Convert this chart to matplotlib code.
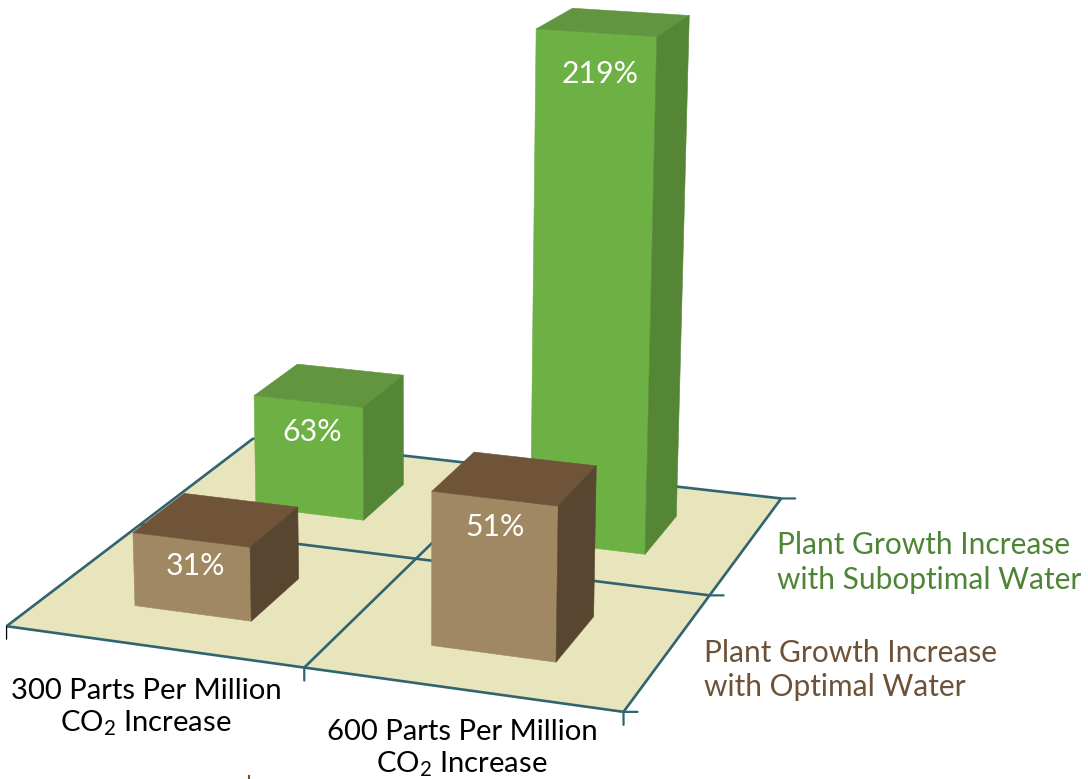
import matplotlib
matplotlib.use("Agg")
import matplotlib.pyplot as plt
from matplotlib.lines import Line2D
from mpl_toolkits.mplot3d import proj3d
from mpl_toolkits.mplot3d.art3d import Poly3DCollection

plt.rcParams["font.family"] = ["Lato", "DejaVu Sans"]
plt.rcParams["mathtext.fontset"] = "custom"
plt.rcParams["mathtext.rm"] = "Lato"
plt.rcParams["mathtext.default"] = "rm"

# bar heights as drawn in the picture, and the labels printed on them
co2_labels = ["300 Parts Per Million\nCO$_2$ Increase", "600 Parts Per Million\nCO$_2$ Increase"]
water_labels = ["Plant Growth Increase\nwith Optimal Water", "Plant Growth Increase\nwith Suboptimal Water"]
heights_optimal = [31, 63]
heights_suboptimal = [51, 219]
labels_optimal = ["31%", "51%"]
labels_suboptimal = ["63%", "219%"]

W, H = 1088, 779
BAR = 0.4
FLOOR = "#E8E4BB"
LINE = "#2F6470"
GREEN = ("#6DB144", "#62953F", "#558636")
BROWN = ("#A08962", "#6F543A", "#584630")
GREEN_TEXT = "#4F8436"
BROWN_TEXT = "#6D5238"

fig = plt.figure(figsize=(W / 100, H / 100), dpi=100)
size = 938
ax = fig.add_axes([-65.7 / W, -64.7 / H, size / W, size / H], projection="3d")
ax.set_proj_type("persp", focal_length=0.604)
ax.view_init(elev=16.7, azim=-70.3)
ax.set_box_aspect((1, 1, 0.68))
ax.set_xlim(0, 2)
ax.set_ylim(0, 2)
ax.set_zlim(0, 171)
ax.set_axis_off()
ax.computed_zorder = False

ax.add_collection3d(
    Poly3DCollection([[(0, 0, 0), (2, 0, 0), (2, 2, 0), (0, 2, 0)]], facecolor=FLOOR, edgecolor="none", zorder=1),
    autolim=False,
)

# floor lines
for v in [0, 1, 2]:
    ax.plot([0, 2], [v, v], [0, 0], color=LINE, lw=1.9, zorder=2, solid_capstyle="butt")
    ax.plot([v, v], [0, 2], [0, 0], color=LINE, lw=1.9, zorder=2, solid_capstyle="butt")


def screen(x, y, z):
    sx, sy, _ = proj3d.proj_transform(x, y, z, ax.get_proj())
    return sx, sy


def tick(x, y, dx, dy, color=LINE, lw=1.6):
    ax.annotate("", xy=screen(x, y, 0), xycoords="data", xytext=(dx, dy), textcoords="offset pixels",
                arrowprops=dict(arrowstyle="-", color=color, lw=lw, shrinkA=0, shrinkB=0), zorder=2)


for y in [0, 1, 2]:
    tick(2, y, 14, 0)
tick(1, 0, 0, -13)
tick(2, 0, 0, -13)
tick(0, 0, 0, -13, color="black", lw=0.9)


def draw_bar(i, j, height, colors, zorder):
    x0, x1 = i + 0.5 - BAR / 2, i + 0.5 + BAR / 2
    y0, y1 = j + 0.5 - BAR / 2, j + 0.5 + BAR / 2
    front = [(x0, y0, 0), (x1, y0, 0), (x1, y0, height), (x0, y0, height)]
    top = [(x0, y0, height), (x1, y0, height), (x1, y1, height), (x0, y1, height)]
    right = [(x1, y0, 0), (x1, y1, 0), (x1, y1, height), (x1, y0, height)]
    for face, c in zip([front, top, right], colors):
        ax.add_collection3d(Poly3DCollection([face], facecolor=c, edgecolor=c, linewidth=0.4, zorder=zorder),
                            autolim=False)


def bar_label(i, j, height, text, shift, drop):
    ax.annotate(text, xy=screen(i + 0.5, j + 0.5 - BAR / 2, height), xycoords="data", xytext=(shift, -drop),
                textcoords="offset pixels", color="white", fontsize=21.8, ha="center", va="center", zorder=7)


# back row first so the front bars cover it
draw_bar(0, 1, heights_suboptimal[0], GREEN, 3)
draw_bar(1, 1, heights_suboptimal[1], GREEN, 4)
draw_bar(0, 0, heights_optimal[0], BROWN, 5)
draw_bar(1, 0, heights_optimal[1], BROWN, 6)
bar_label(0, 1, heights_suboptimal[0], labels_suboptimal[0], 4, 31)
bar_label(1, 1, heights_suboptimal[1], labels_suboptimal[1], 5, 42)
bar_label(0, 0, heights_optimal[0], labels_optimal[0], 5, 27)
bar_label(1, 0, heights_optimal[1], labels_optimal[1], 1, 29)


def px_text(x, y, s, color, ha, size, spacing):
    fig.text(x / W, 1 - y / H, s, color=color, fontsize=size, ha=ha, va="center", linespacing=spacing,
             multialignment=ha)


px_text(146, 708, co2_labels[0], "black", "center", 21.1, 1.17)
px_text(462, 749, co2_labels[1], "black", "center", 21.1, 1.17)
px_text(777, 562.5, water_labels[1], GREEN_TEXT, "left", 21.5, 1.27)
px_text(704, 670, water_labels[0], BROWN_TEXT, "left", 21.5, 1.22)

fig.add_artist(Line2D([249 / W, 249 / W], [0, 3 / H], color=BROWN_TEXT, lw=1.5))

fig.savefig("out.png", dpi=100)
